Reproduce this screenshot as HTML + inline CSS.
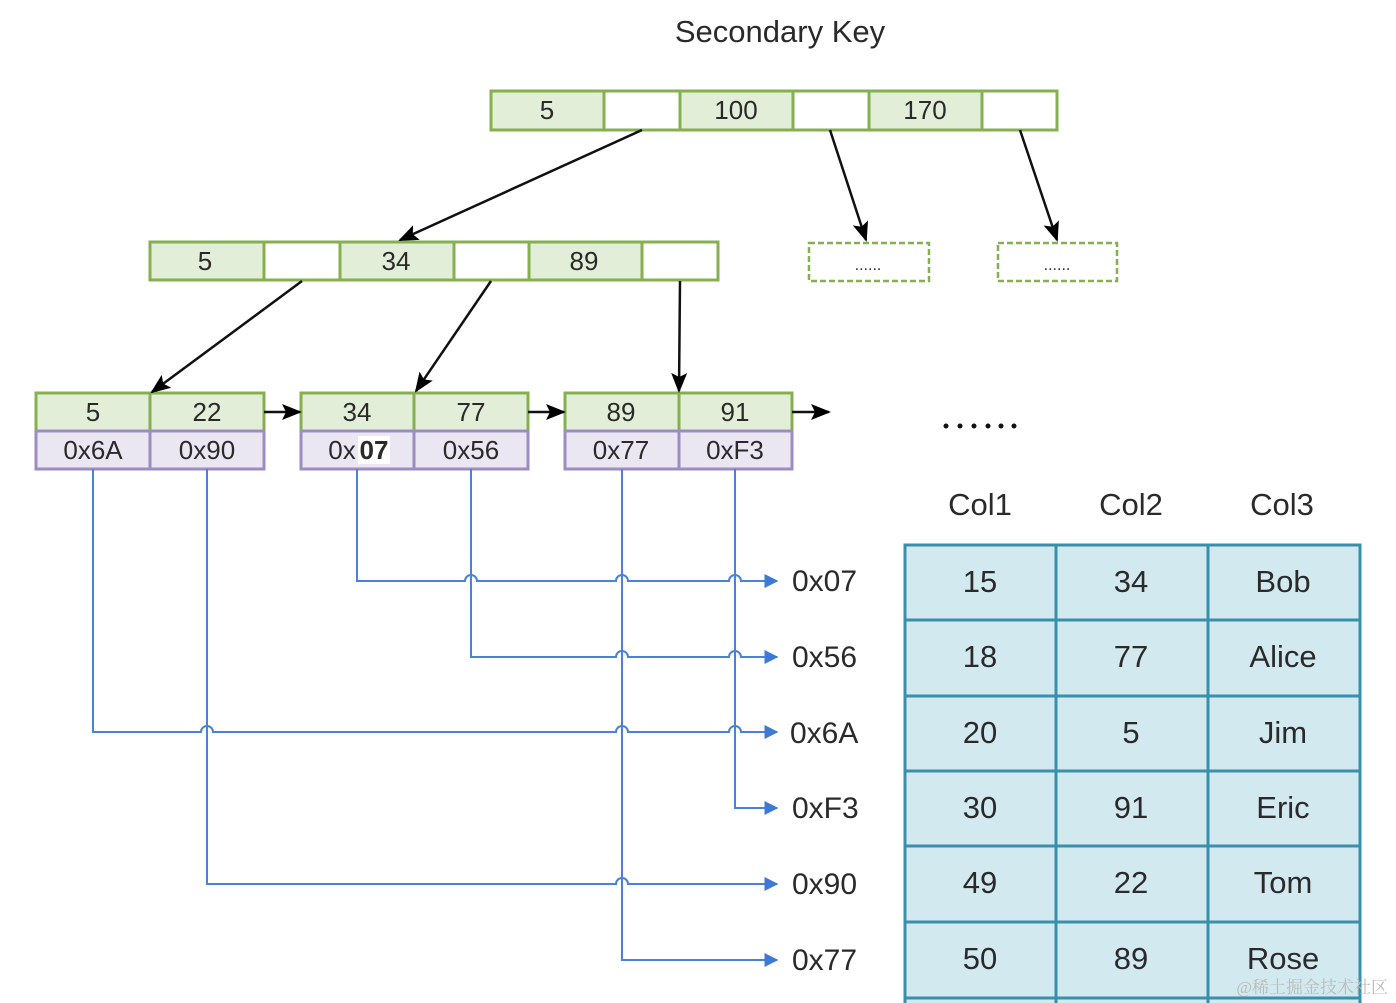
<!DOCTYPE html>
<html><head><meta charset="utf-8"><style>
html,body{margin:0;padding:0;background:#fff;}
svg{display:block;}
text{font-family:"Liberation Sans","DejaVu Sans",sans-serif;fill:#2a2a2a;}
</style></head><body>
<svg width="1396" height="1003" viewBox="0 0 1396 1003" xmlns="http://www.w3.org/2000/svg">
<defs>
<marker id="ab" viewBox="0 0 10 10" refX="9" refY="5" markerWidth="9" markerHeight="9" markerUnits="userSpaceOnUse" orient="auto"><path d="M0,0 L10,5 L0,10 z" fill="#000"/></marker>
<marker id="ab2" viewBox="0 0 10 10" refX="9" refY="5" markerWidth="20" markerHeight="20" markerUnits="userSpaceOnUse" orient="auto"><path d="M0,1 L10,5 L0,9 L2,5 z" fill="#000"/></marker>
<marker id="bl" viewBox="0 0 10 10" refX="9" refY="5" markerWidth="14" markerHeight="14" markerUnits="userSpaceOnUse" orient="auto"><path d="M0,0 L10,5 L0,10 z" fill="#3d7ad6"/></marker>
</defs>

<text x="780" y="42" font-size="31" text-anchor="middle">Secondary Key</text>

<!-- root node -->
<g stroke="#86b050" stroke-width="3">
<rect x="491" y="91" width="113" height="39" fill="#e3eed8"/>
<rect x="604" y="91" width="76" height="39" fill="#fff"/>
<rect x="680" y="91" width="113" height="39" fill="#e3eed8"/>
<rect x="793" y="91" width="76" height="39" fill="#fff"/>
<rect x="869" y="91" width="113" height="39" fill="#e3eed8"/>
<rect x="982" y="91" width="75" height="39" fill="#fff"/>
</g>
<g font-size="26" text-anchor="middle">
<text x="547" y="119">5</text><text x="736" y="119">100</text><text x="925" y="119">170</text>
</g>

<!-- level 2 -->
<g stroke="#86b050" stroke-width="3">
<rect x="150" y="242" width="114" height="38" fill="#e3eed8"/>
<rect x="264" y="242" width="76" height="38" fill="#fff"/>
<rect x="340" y="242" width="114" height="38" fill="#e3eed8"/>
<rect x="454" y="242" width="75" height="38" fill="#fff"/>
<rect x="529" y="242" width="113" height="38" fill="#e3eed8"/>
<rect x="642" y="242" width="76" height="38" fill="#fff"/>
</g>
<g font-size="26" text-anchor="middle">
<text x="205" y="270">5</text><text x="396" y="270">34</text><text x="584" y="270">89</text>
</g>

<!-- dashed boxes -->
<g stroke="#86b050" stroke-width="2.5" stroke-dasharray="6,3" fill="#fff">
<rect x="809" y="243" width="120" height="38"/>
<rect x="998" y="243" width="119" height="38"/>
</g>
<g font-size="16" text-anchor="middle"><text x="868" y="270">......</text><text x="1057" y="270">......</text></g>

<!-- leaves -->
<g stroke-width="3">
<g stroke="#86b050" fill="#e3eed8">
<rect x="36" y="393" width="114" height="38"/><rect x="150" y="393" width="114" height="38"/>
<rect x="301" y="393" width="113" height="38"/><rect x="414" y="393" width="114" height="38"/>
<rect x="565" y="393" width="114" height="38"/><rect x="679" y="393" width="113" height="38"/>
</g>
<g stroke="#9d8cc2" fill="#ebe7f2">
<rect x="36" y="431" width="114" height="38"/><rect x="150" y="431" width="114" height="38"/>
<rect x="301" y="431" width="113" height="38"/><rect x="414" y="431" width="114" height="38"/>
<rect x="565" y="431" width="114" height="38"/><rect x="679" y="431" width="113" height="38"/>
</g>
</g>
<g font-size="26" text-anchor="middle">
<text x="93" y="421">5</text><text x="207" y="421">22</text>
<text x="357" y="421">34</text><text x="471" y="421">77</text>
<text x="621" y="421">89</text><text x="735" y="421">91</text>
<text x="93" y="459">0x6A</text><text x="207" y="459">0x90</text>
<text x="342" y="459">0x</text><rect x="358" y="436" width="32" height="28" fill="#fff"/><text x="374" y="459" font-weight="bold" fill="#000">07</text>
<text x="471" y="459">0x56</text>
<text x="621" y="459">0x77</text><text x="735" y="459">0xF3</text>
</g>

<!-- black arrows -->
<g stroke="#111" stroke-width="2.5" fill="none" marker-end="url(#ab2)">
<line x1="642" y1="130" x2="400" y2="240"/>
<line x1="830" y1="130" x2="866" y2="240"/>
<line x1="1020" y1="130" x2="1057" y2="240"/>
<line x1="302" y1="281" x2="152" y2="392"/>
<line x1="491" y1="281" x2="416" y2="391"/>
<line x1="680" y1="281" x2="679" y2="391"/>
<line x1="264" y1="412" x2="300" y2="412"/>
<line x1="528" y1="412" x2="564" y2="412"/>
<line x1="792" y1="412" x2="829" y2="412"/>
</g>

<g fill="#111">
<circle cx="946" cy="426" r="2.5"/><circle cx="960" cy="426" r="2.5"/><circle cx="974" cy="426" r="2.5"/>
<circle cx="988" cy="426" r="2.5"/><circle cx="1001" cy="426" r="2.5"/><circle cx="1014" cy="426" r="2.5"/>
</g>

<!-- blue connectors -->
<g stroke="#4a82d8" stroke-width="2" fill="none" marker-end="url(#bl)">
<path d="M357,469 V581 H465 a6,6 0 0 1 12,0 H616 a6,6 0 0 1 12,0 H729 a6,6 0 0 1 12,0 H777"/>
<path d="M471,469 V657 H616 a6,6 0 0 1 12,0 H729 a6,6 0 0 1 12,0 H777"/>
<path d="M93,469 V732 H201 a6,6 0 0 1 12,0 H616 a6,6 0 0 1 12,0 H729 a6,6 0 0 1 12,0 H777"/>
<path d="M735,469 V808 H777"/>
<path d="M207,469 V884 H616 a6,6 0 0 1 12,0 H777"/>
<path d="M622,469 V960 H777"/>
</g>
<g font-size="30">
<text x="792" y="591">0x07</text><text x="792" y="667">0x56</text><text x="790" y="743">0x6A</text>
<text x="792" y="818">0xF3</text><text x="792" y="894">0x90</text><text x="792" y="970">0x77</text>
</g>

<!-- table -->
<g font-size="31" text-anchor="middle">
<text x="980" y="515">Col1</text><text x="1131" y="515">Col2</text><text x="1282" y="515">Col3</text>
</g>
<g stroke="#3a90aa" stroke-width="3" fill="#d3e9f0">
<rect x="905" y="545" width="455" height="460"/>
<line x1="1056" y1="545" x2="1056" y2="1003"/>
<line x1="1208" y1="545" x2="1208" y2="1003"/>
<line x1="905" y1="620" x2="1360" y2="620"/>
<line x1="905" y1="696" x2="1360" y2="696"/>
<line x1="905" y1="771" x2="1360" y2="771"/>
<line x1="905" y1="846" x2="1360" y2="846"/>
<line x1="905" y1="922" x2="1360" y2="922"/>
<line x1="905" y1="998" x2="1360" y2="998"/>
</g>
<g font-size="31" text-anchor="middle" style="fill:#1a1a1a">
<text x="980" y="592">15</text><text x="1131" y="592">34</text><text x="1283" y="592">Bob</text>
<text x="980" y="667">18</text><text x="1131" y="667">77</text><text x="1283" y="667">Alice</text>
<text x="980" y="743">20</text><text x="1131" y="743">5</text><text x="1283" y="743">Jim</text>
<text x="980" y="818">30</text><text x="1131" y="818">91</text><text x="1283" y="818">Eric</text>
<text x="980" y="893">49</text><text x="1131" y="893">22</text><text x="1283" y="893">Tom</text>
<text x="980" y="969">50</text><text x="1131" y="969">89</text><text x="1283" y="969">Rose</text>
</g>
<text x="1388" y="993" font-size="17" text-anchor="end" style="fill:#bbbbbb;font-family:'Liberation Serif','Noto Serif CJK SC',serif">@稀土掘金技术社区</text>
</svg>
</body></html>
